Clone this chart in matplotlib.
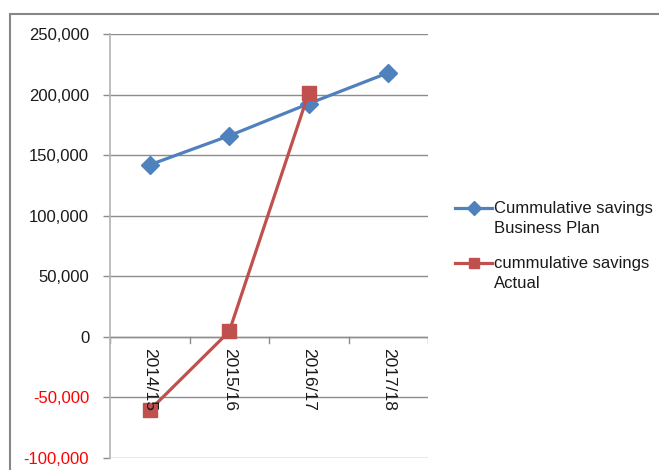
import matplotlib as mpl
mpl.use('Agg')
import matplotlib.pyplot as plt
from matplotlib.patches import Rectangle
from matplotlib.lines import Line2D
from matplotlib.ticker import FuncFormatter

plt.rcParams['font.family'] = ['Liberation Sans', 'DejaVu Sans']

years = ['2014/15', '2015/16', '2016/17', '2017/18']
plan = [142000, 166000, 192500, 218000]
actual = [-60500, 4500, 201500]
plan_label = 'Cummulative savings\nBusiness Plan'
actual_label = 'cummulative savings\nActual'

blue = '#4F81BD'
red = '#C0504D'
grid_col = '#8c8c8c'
W, H = 659, 470

fig = plt.figure(figsize=(W / 100, H / 100), dpi=100)
# outer chart frame
fig.patches.append(Rectangle((10 / W, -0.05), 1.0, (H - 14) / H + 0.05,
                             transform=fig.transFigure, fill=False,
                             edgecolor='#878787', linewidth=1.5))

ax = fig.add_axes([110 / W, 12 / H, 318 / W, 424 / H])
xs = list(range(len(years)))
l1, = ax.plot(xs, plan, color=blue, lw=2.3, marker='D', markersize=9.5, zorder=3)
l2, = ax.plot(xs[:len(actual)], actual, color=red, lw=2.3, marker='s', markersize=10, zorder=3)

ax.set_xlim(-0.5, len(years) - 0.5)
ax.set_ylim(-100000, 250000)
ax.set_yticks(range(-100000, 250001, 50000))
ax.yaxis.set_major_formatter(FuncFormatter(lambda v, p: f'{int(v):,}'))
ax.tick_params(axis='y', length=5, width=1, color=grid_col, labelsize=12, pad=10)
for lab, v in zip(ax.get_yticklabels(), ax.get_yticks()):
    lab.set_color('red' if v < 0 else '#1a1a1a')
ax.grid(axis='y', color=grid_col, lw=1)
ax.set_axisbelow(True)

for s in ['top', 'right', 'bottom']:
    ax.spines[s].set_visible(False)
ax.spines['left'].set_color('#b3b3b3')
ax.spines['left'].set_linewidth(1.2)

# category axis at zero
ax.set_xticks([])
ax.axhline(0, color=grid_col, lw=1, zorder=1)
for b in [i + 0.5 for i in range(-1, len(years))]:
    ax.plot([b, b], [0, -5000], color=grid_col, lw=1, zorder=1)
for i, y in enumerate(years):
    ax.annotate(y, (i, 0), xytext=(0, -8), textcoords='offset points',
                rotation=270, ha='center', va='top', fontsize=12.5, color='#1a1a1a')

# Excel-style legend: marker aligned with first text line
for line, label, ypx in [(l1, plan_label, 208), (l2, actual_label, 263)]:
    y = 1 - ypx / H
    fig.add_artist(Line2D([455 / W, 492 / W], [y, y], color=line.get_color(), lw=2.3))
    fig.add_artist(Line2D([473.5 / W], [y], color=line.get_color(), marker=line.get_marker(),
                          markersize=line.get_markersize() * 0.75))
    fig.text(494 / W, y + 7 / H, label, fontsize=12, va='top', ha='left',
             linespacing=1.45, color='#1a1a1a')

fig.savefig('out.png', dpi=100)
